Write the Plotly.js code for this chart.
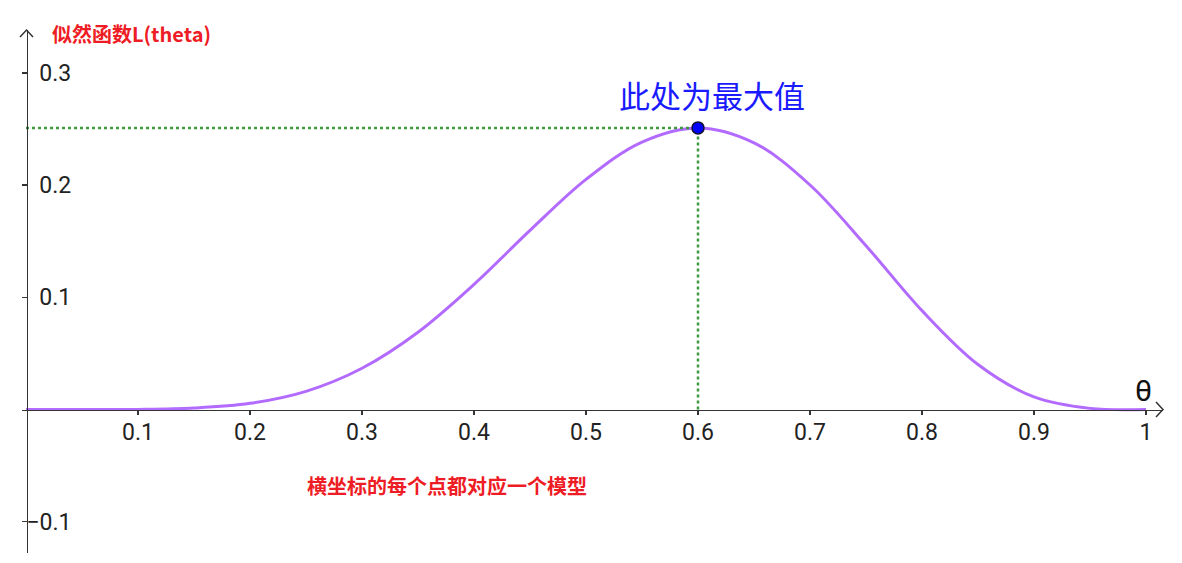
<!DOCTYPE html>
<html>
<head>
<meta charset="utf-8">
<script src="https://cdn.plot.ly/plotly-3.0.1.min.js"></script>
<style>
  html, body { margin: 0; padding: 0; background: #fff; }
  #chart { width: 1182px; height: 563px; }
</style>
</head>
<body>
<div id="chart"></div>
<script>
// values
const theta = [0, 0.05, 0.1, 0.15, 0.2, 0.25, 0.3, 0.35, 0.4, 0.45, 0.5, 0.55, 0.6, 0.65, 0.7, 0.75, 0.8, 0.85, 0.9, 0.95, 1];
const likelihood = [0, 0, 0.0001, 0.0013, 0.0055, 0.0162, 0.0368, 0.0689, 0.1115, 0.1596, 0.2051, 0.2384, 0.251, 0.2377, 0.2001, 0.146, 0.0881, 0.0401, 0.0112, 0.001, 0];
const peakTheta = [0.6];
const peakValue = [0.251];
const xTickVals = [0.1, 0.2, 0.3, 0.4, 0.5, 0.6, 0.7, 0.8, 0.9, 1];
const xTickText = ["0.1", "0.2", "0.3", "0.4", "0.5", "0.6", "0.7", "0.8", "0.9", "1"];
const yTickVals = [-0.1, 0.1, 0.2, 0.3];
// figure space keeps the digits lined up with the minus of -0.1
const yTickText = ["\u22120.1", "\u20070.1", "\u20070.2", "\u20070.3"];

const W = 1182, H = 563;
const px = (v) => v / W;
const py = (v) => 1 - v / H;

function chevron(points) {
  return {
    type: "path", xref: "paper", yref: "paper",
    path: "M" + points.map(([x, y]) => `${px(x)},${py(y)}`).join(" L"),
    line: { color: "#333", width: 1.5 },
  };
}

const curve = {
  x: theta, y: likelihood, type: "scatter", mode: "lines",
  line: { color: "#b36bff", width: 3, shape: "spline", smoothing: 1 },
  hoverinfo: "skip",
};
const guideH = {
  x: [0, peakTheta[0]], y: [peakValue[0], peakValue[0]], type: "scatter", mode: "lines",
  line: { color: "#3f9a3f", width: 2.5, dash: "dot" }, hoverinfo: "skip",
};
const guideV = {
  x: [peakTheta[0], peakTheta[0]], y: [0, peakValue[0]], type: "scatter", mode: "lines",
  line: { color: "#3f9a3f", width: 2.5, dash: "dot" }, hoverinfo: "skip",
};
const peak = {
  x: peakTheta, y: peakValue, type: "scatter", mode: "markers",
  marker: { color: "#0000ff", size: 12, line: { color: "#111133", width: 1.5 } },
};

const tickFont = { family: "Roboto, 'Noto Sans', sans-serif", size: 23, color: "#222" };
const cjk = "'Noto Sans CJK SC', 'Noto Sans', sans-serif";

const layout = {
  width: W, height: H,
  margin: { l: 0, r: 0, t: 0, b: 0 },
  paper_bgcolor: "#fff", plot_bgcolor: "rgba(0,0,0,0)",
  showlegend: false,
  xaxis: {
    domain: [px(22), px(1163)],
    range: [(22 - 26) / 1120, (1163 - 26) / 1120],
    anchor: "free", position: (H - 409.5) / H,
    showgrid: false, zeroline: false,
    showline: true, linecolor: "#333", linewidth: 1.5,
    ticks: "outside", ticklen: 4, tickcolor: "#333", tickwidth: 1.5,
    ticklabelstandoff: -3,
    tickvals: xTickVals, ticktext: xTickText, tickfont: tickFont,
  },
  yaxis: {
    domain: [(H - 553) / H, (H - 30) / H],
    range: [(409.5 - 553) / 1122, (409.5 - 30) / 1122],
    anchor: "free", position: px(26.5),
    showgrid: false, zeroline: false,
    showline: true, linecolor: "#333", linewidth: 1.5,
    ticks: "outside", ticklen: 5, tickcolor: "#333", tickwidth: 1.5,
    ticklabelposition: "inside", ticklabelstandoff: 0,
    tickvals: yTickVals, ticktext: yTickText, tickfont: tickFont,
  },
  shapes: [
    chevron([[20, 37], [26.5, 30], [33, 37]]),
    chevron([[1156, 402], [1163, 409.5], [1156, 417]]),
  ],
  annotations: [
    { xref: "paper", yref: "paper", x: px(50), y: py(33), xanchor: "left", yanchor: "middle", showarrow: false,
      text: "<b>似然函数L(theta)</b>", font: { family: cjk, size: 20, color: "#ee1c25" } },
    { xref: "paper", yref: "paper", x: px(712), y: py(95), xanchor: "center", yanchor: "middle", showarrow: false,
      text: "此处为最大值", font: { family: cjk, size: 31, color: "#1a1aff" } },
    { xref: "paper", yref: "paper", x: px(447), y: py(485), xanchor: "center", yanchor: "middle", showarrow: false,
      text: "<b>横坐标的每个点都对应一个模型</b>", font: { family: cjk, size: 20, color: "#ee1c25" } },
    { xref: "paper", yref: "paper", x: px(1143), y: py(390), xanchor: "center", yanchor: "middle", showarrow: false,
      text: "θ", font: { family: "Roboto, 'Noto Sans', sans-serif", size: 30, color: "#111" } },
  ],
};

Plotly.newPlot("chart", [curve, guideH, guideV, peak], layout, { displayModeBar: false, staticPlot: true });
</script>
</body>
</html>
